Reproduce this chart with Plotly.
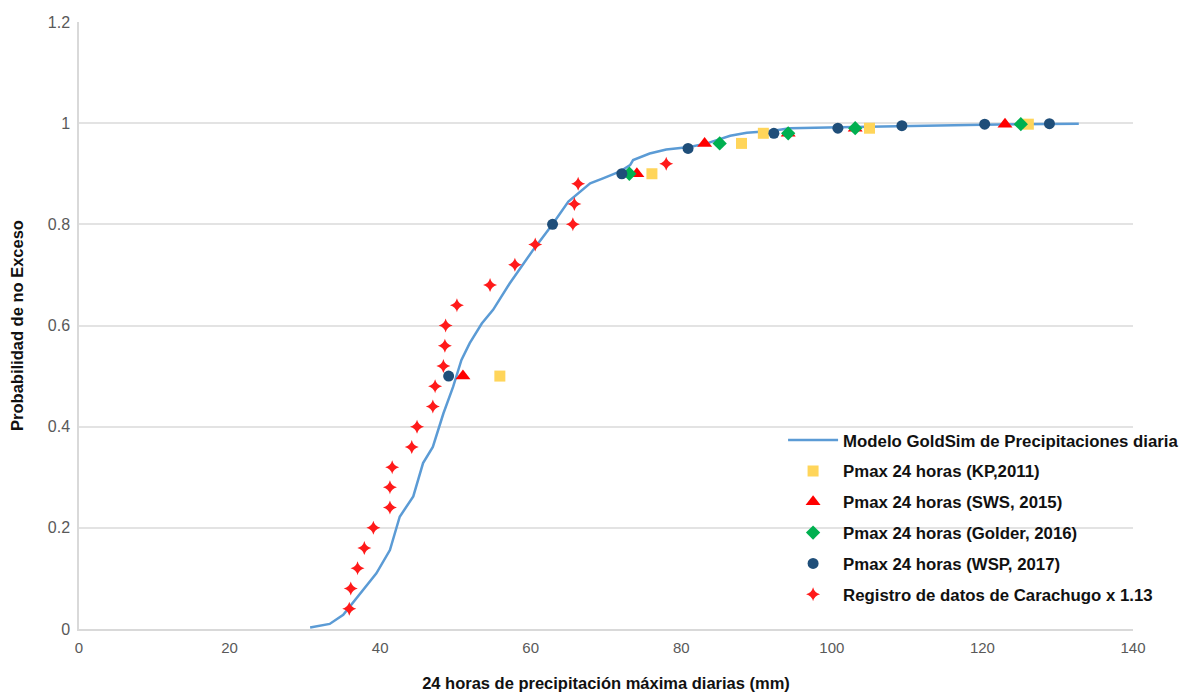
import plotly.graph_objects as go

model_x = [30.7, 33.3, 35.1, 37.3, 39.5, 41.3, 42.6, 44.4, 45.7, 47.0, 48.4, 49.7, 50.8,
           51.9, 53.5, 55.0, 57.2, 60.3, 62.9, 65.0, 67.9, 69.6, 71.8, 73.2, 73.6, 75.8,
           78.0, 81.1, 83.4, 86.5, 88.7, 92.2, 94.4, 101.1, 110.0, 120.0, 132.8]
model_y = [0.003, 0.01, 0.028, 0.07, 0.11, 0.156, 0.222, 0.262, 0.328, 0.36, 0.426, 0.479, 0.532,
           0.565, 0.604, 0.631, 0.683, 0.749, 0.80, 0.845, 0.881, 0.891, 0.904, 0.917, 0.927, 0.94,
           0.948, 0.953, 0.96, 0.975, 0.981, 0.985, 0.99, 0.992, 0.995, 0.997, 0.999]

kp_x = [55.9, 76.1, 88.0, 90.9, 105.0, 126.1]
kp_y = [0.5, 0.9, 0.96, 0.98, 0.99, 0.998]

sws_x = [51.0, 74.1, 83.1, 94.2, 103.1, 123.0]
sws_y = [0.5, 0.9, 0.96, 0.98, 0.99, 0.998]

golder_x = [73.1, 85.1, 94.2, 103.1, 125.1]
golder_y = [0.9, 0.96, 0.98, 0.99, 0.998]

wsp_x = [49.1, 62.9, 72.1, 80.9, 92.3, 100.8, 109.3, 120.3, 128.9]
wsp_y = [0.5, 0.8, 0.9, 0.95, 0.98, 0.99, 0.995, 0.998, 0.999]

car_x = [35.9, 36.1, 37.0, 37.9, 39.1, 41.3, 41.3, 41.6, 44.2, 44.9, 47.0, 47.3, 48.4,
         48.6, 48.7, 50.2, 54.6, 57.9, 60.6, 65.6, 65.8, 66.3, 78.0]
car_y = [0.04, 0.08, 0.12, 0.16, 0.20, 0.24, 0.28, 0.32, 0.36, 0.40, 0.44, 0.48, 0.52,
         0.56, 0.60, 0.64, 0.68, 0.72, 0.76, 0.80, 0.84, 0.88, 0.92]

x_ticks = [0, 20, 40, 60, 80, 100, 120, 140]
y_ticks = [0, 0.2, 0.4, 0.6, 0.8, 1.0, 1.2]
y_labels = ["0", "0.2", "0.4", "0.6", "0.8", "1", "1.2"]

fig = go.Figure()
fig.add_trace(go.Scatter(x=model_x, y=model_y, mode="lines", name="Modelo GoldSim de Precipitaciones diaria",
                         line=dict(color="#5B9BD5", width=2.5), legendgroup="a"))
fig.add_trace(go.Scatter(x=kp_x, y=kp_y, mode="markers", name="Pmax 24 horas (KP,2011)",
                         marker=dict(symbol="square", size=11, color="#FFD55A"), legendgroup="b"))
fig.add_trace(go.Scatter(x=sws_x, y=sws_y, mode="markers", name="Pmax 24 horas (SWS, 2015)",
                         marker=dict(symbol="triangle-up", size=13, color="#FF0000"), legendgroup="c"))
fig.add_trace(go.Scatter(x=golder_x, y=golder_y, mode="markers", name="Pmax 24 horas (Golder, 2016)",
                         marker=dict(symbol="diamond", size=11, color="#00B050"), legendgroup="d"))
fig.add_trace(go.Scatter(x=wsp_x, y=wsp_y, mode="markers", name="Pmax 24 horas (WSP, 2017)",
                         marker=dict(symbol="circle", size=11, color="#1F4E79"), legendgroup="e"))
fig.add_trace(go.Scatter(x=car_x, y=car_y, mode="markers", name="Registro de datos de Carachugo x 1.13",
                         marker=dict(symbol="star-diamond", size=10, color="#FF1A1A"), legendgroup="f"))

fig.update_layout(
    width=1188, height=684,
    margin=dict(l=71, r=63, t=14, b=63, autoexpand=False),
    paper_bgcolor="white", plot_bgcolor="white",
    font=dict(family="Liberation Sans, Arial, sans-serif", color="#595959", size=14),
    legend=dict(x=0.668, y=0.340, xanchor="left", yanchor="top",
                bgcolor="rgba(255,255,255,0)", tracegroupgap=6, itemwidth=50,
                font=dict(size=16.8, color="#111111", family="Liberation Sans, Arial, sans-serif",
                          weight="bold")),
    showlegend=True,
)
fig.update_xaxes(range=[0, 140], tickvals=x_ticks, showgrid=False, zeroline=False, automargin=False,
                 showline=True, linecolor="#D9D9D9", linewidth=1.5, ticks="", ticklen=0,
                 ticklabelstandoff=4,
                 tickfont=dict(size=15, color="#595959"),
                 title=dict(text="<b>24 horas de precipitación máxima diarias (mm)</b>",
                            font=dict(size=16.5, color="#111111"), standoff=30))
fig.update_yaxes(range=[0, 1.2], tickvals=y_ticks, ticktext=y_labels, showgrid=True, automargin=False,
                 gridcolor="#E3E3E3", gridwidth=1.5, zeroline=False,
                 showline=True, linecolor="#D9D9D9", linewidth=1.5, ticks="",
                 ticklabelstandoff=4,
                 tickfont=dict(size=16, color="#595959"),
                 title=dict(text="<b>Probabilidad de no Exceso</b>",
                            font=dict(size=16.5, color="#111111"), standoff=22))

fig.write_html("out.html")
